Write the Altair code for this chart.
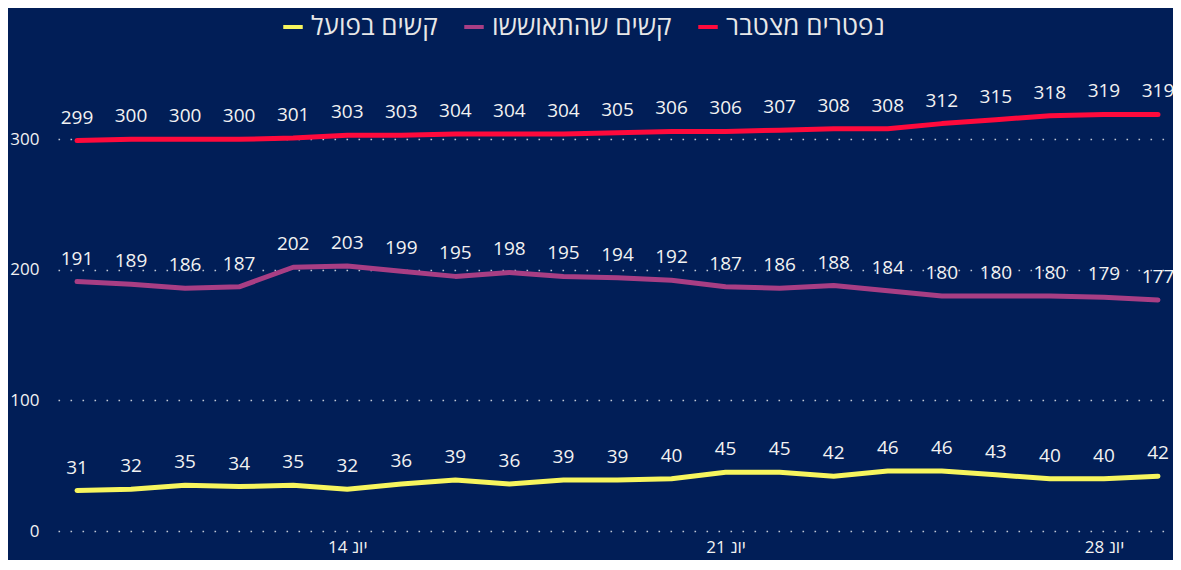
import altair as alt
import pandas as pd

dates = pd.date_range("2020-06-09", "2020-06-29", freq="D")
series_names = ["קשים בפועל", "קשים שהתאוששו", "נפטרים מצטבר"]
series_colors = ["#F7F55E", "#A83E84", "#FF0A3C"]

critical_now = [31, 32, 35, 34, 35, 32, 36, 39, 36, 39, 39, 40, 45, 45, 42, 46, 46, 43, 40, 40, 42]
critical_recovered = [191, 189, 186, 187, 202, 203, 199, 195, 198, 195, 194, 192, 187, 186, 188, 184, 180, 180, 180, 179, 177]
deaths_cumulative = [299, 300, 300, 300, 301, 303, 303, 304, 304, 304, 305, 306, 306, 307, 308, 308, 312, 315, 318, 319, 319]

y_ticks = [0, 100, 200, 300]
x_tick_days = [14, 21, 28]
month_label = "יונ"

rows = []
for name, vals in zip(series_names, [critical_now, critical_recovered, deaths_cumulative]):
    for d, v in zip(dates, vals):
        rows.append({"date": d, "series": name, "value": v})
df = pd.DataFrame(rows)

FONT = "Open Sans, DejaVu Sans, sans-serif"
BG = "#011E57"

x_enc = alt.X(
    "date:T",
    scale=alt.Scale(
        domain=[
            alt.DateTime(year=2020, month=6, date=8, hours=15, minutes=34),
            alt.DateTime(year=2020, month=6, date=29, hours=6, minutes=40),
        ],
        nice=False,
    ),
    axis=alt.Axis(
        title=None,
        values=[alt.DateTime(year=2020, month=6, date=d) for d in x_tick_days],
        labelExpr="timeFormat(datum.value, '%-d') + ' " + month_label + "'",
        grid=False,
        ticks=False,
        domain=False,
        labelFontSize=17,
        labelColor="#F2F2F2",
        labelFont=FONT,
        labelPadding=8,
    ),
)
y_enc = alt.Y(
    "value:Q",
    scale=alt.Scale(domain=[0, 350], nice=False),
    axis=alt.Axis(
        title=None,
        values=y_ticks,
        grid=True,
        gridColor="#C0C6D4",
        gridWidth=1.6,
        gridDash=[1.6, 10.4],
        ticks=False,
        domain=False,
        labelFontSize=17,
        labelColor="#F2F2F2",
        labelFont=FONT,
        labelPadding=19,
    ),
)

lines = alt.Chart(df).mark_line(strokeWidth=5, strokeCap="round", strokeJoin="round").encode(
    x=x_enc,
    y=y_enc,
    color=alt.Color(
        "series:N",
        scale=alt.Scale(domain=series_names, range=series_colors),
        sort=series_names,
        legend=alt.Legend(
            title=None,
            orient="none",
            legendX=222,
            legendY=-60,
            direction="horizontal",
            symbolType="stroke",
            symbolStrokeWidth=4,
            symbolSize=380,
            labelFontSize=26,
            labelFont=FONT,
            labelColor="#E8E8E8",
            labelOffset=5,
            columnPadding=18,
            labelLimit=400,
        ),
    ),
)

labels = alt.Chart(df).mark_text(
    dy=-23, fontSize=19, font=FONT, color="#F2F2F2", baseline="middle"
).encode(
    x="date:T",
    y="value:Q",
    text="value:Q",
)

chart = (
    alt.layer(lines, labels)
    .properties(
        width=1115,
        height=457,
        padding={"left": 50, "top": 66, "right": 0, "bottom": 29},
        autosize=alt.AutoSizeParams(type="none"),
        background=BG,
    )
    .configure_view(stroke=None)
)

chart.save("out.html", embed_options={"renderer": "svg", "actions": False})
